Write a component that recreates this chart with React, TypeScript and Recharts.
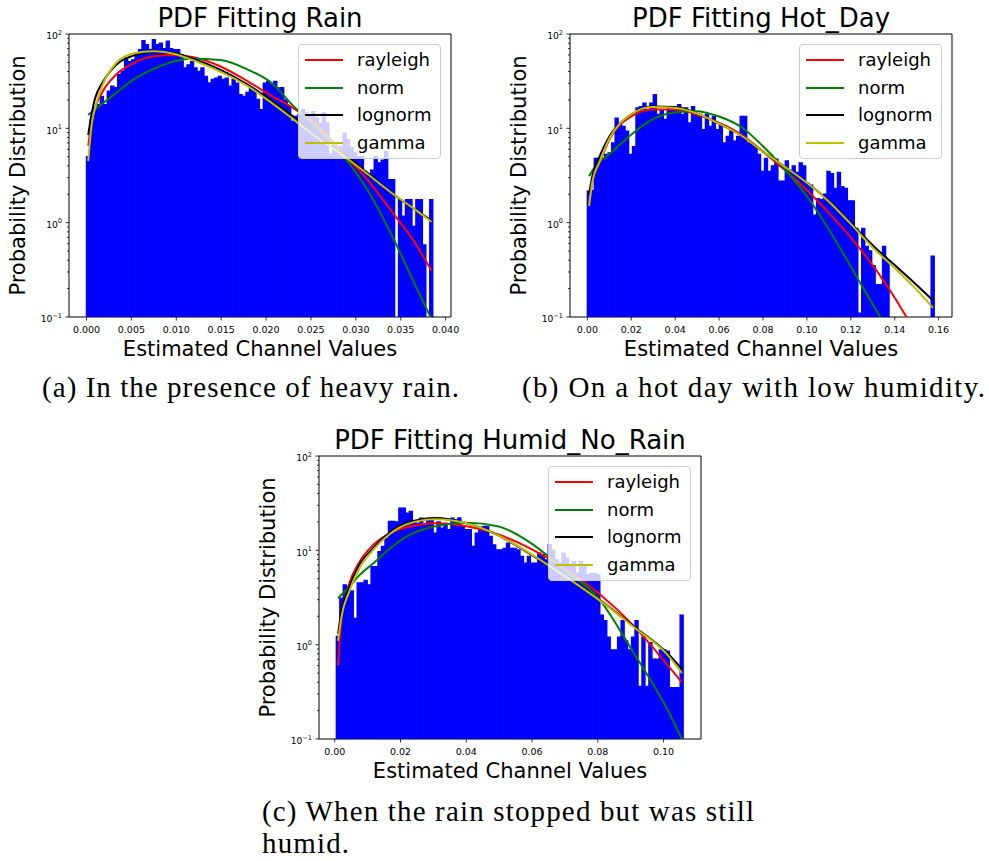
import React from 'react';
import { ComposedChart, Bar, Line, XAxis, YAxis, ReferenceArea, Legend } from 'recharts';

const SANS = 'DejaVu Sans';
const SERIF = 'Liberation Serif';

const FITS = ['rayleigh', 'norm', 'lognorm', 'gamma'];
const FIT_COLORS: Record<string, string> = {
  rayleigh: '#ff0000',
  norm: '#008000',
  lognorm: '#000000',
  gamma: '#bfbf00',
};

const Y_TICKS = [
  0.1, 0.2, 0.3, 0.4, 0.5, 0.6, 0.7, 0.8, 0.9,
  1, 2, 3, 4, 5, 6, 7, 8, 9,
  10, 20, 30, 40, 50, 60, 70, 80, 90,
  100,
];

// ---- (a) heavy rain ----
const RAIN_BIN_START = 0;
const RAIN_BIN_WIDTH = 0.0003862;
const RAIN_HIST = [
  5.0, 11.9, 16.4, 17.8, 21.8, 17.8, 24.7, 28, 27, 37,
  40, 55.7, 51, 53, 63, 68, 85, 77, 68, 87,
  77, 80, 70, 84, 70, 68, 68, 58, 43.6, 47,
  51, 43.6, 40, 43.6, 35.5, 30.2, 33, 34, 35.5, 33,
  34, 28, 33, 30, 22.7, 21.8, 24, 26.5, 24.7, 20.2,
  15.8, 30, 31.5, 29, 31.5, 26.8, 27, 20, 17, 11.9,
  13.4, 14, 15.8, 14.6, 14, 15, 12.9, 11.2, 14.6, 11.4,
  5.3, 7, 5.7, 6.4, 8.9, 7.6, 6.2, 5.5, 5, 5,
  3.4, 3.3, 3.6, 5, 4.3, 4.6, 5.7, 2.86, 2.86, null,
  1.75, 1.17, 1.75, 1.75, 0.91, 1.75, 1.75, 0.58, null, 1.75,
];
const RAIN_FIT_BINS = [0, 1, 2, 4, 8, 13, 19, 25, 30, 38, 46, 53, 59, 66, 74, 80, 88, 94, 99];
const RAIN_RAYLEIGH = [6.5, 12, 16.5, 24, 37, 49, 58, 60, 57, 45.5, 31.5, 22, 16.5, 10.8, 5.2, 3.0, 1.25, 0.63, 0.31];
const RAIN_NORM = [13.9, 14.8, 15.9, 18.2, 23.6, 32.8, 43, 51.5, 54.5, 53, 42, 30, 17.5, 10, 4.9, 2.4, 0.68, 0.23, 0.095];
const RAIN_LOGNORM = [8.5, 14.5, 21, 30, 47, 59, 65, 62.5, 55, 42, 29, 19.5, 13.4, 8, 5.2, 3.5, 2.0, 1.4, 1.05];
const RAIN_GAMMA = [4.5, 11, 16.5, 28, 49, 62, 65.5, 61.5, 53, 40, 28, 18.5, 12.6, 8, 5.0, 3.4, 2.0, 1.4, 1.02];
const RAIN_X_TICKS = [0, 0.005, 0.01, 0.015, 0.02, 0.025, 0.03, 0.035, 0.04];
const RAIN_X_DOMAIN = [-0.00195, 0.0406];

// ---- (b) hot day ----
const HOT_BIN_START = 0;
const HOT_BIN_WIDTH = 0.001582;
const HOT_HIST = [
  2.15, 2.2, 4.8, 4.8, 4.7, 5.3, 5.5, 7, 12.8, 10.9,
  10.5, 9.3, 5.3, 6.4, 16.4, 17, 18.5, 15.8, 18.5, 22.7,
  14, 15.8, 12.4, 16.4, 17, 15.8, 17.8, 14, 16.4, 11.4,
  17, 14, 14, 9.7, 14, 10.5, 13.4, 9.7, 10.9, 7,
  8.2, 9.3, 7.3, 8.2, 13.4, 13.4, 7, 6.7, 6.4, 5.3,
  3.5, 4.8, 3.5, 4, 4.7, 2.75, 2.75, 4.5, 3.6, 4,
  3.4, 4.3, 4, 2.6, 2.5, 1.2, 1.8, 1.75, 2.0, 3.5,
  3.3, 2.3, 3.4, 2.4, 2.3, 1.7, 1.7, 0.87, 0.11, 0.87,
  0.56, 0.5, 0.35, 0.22, 0.22, 0.56, 0.4, null, null, null,
  null, null, null, null, null, null, null, null, null, 0.44,
];
const HOT_FIT_BINS = [0, 1, 3, 6, 9, 12, 18, 25, 31, 37, 44, 50, 56, 63, 69, 75, 82, 88, 94, 99];
const HOT_RAYLEIGH = [1.6, 2.8, 4.3, 7.8, 11, 13.3, 15.8, 15.8, 14, 11.6, 8.5, 5.7, 3.7, 2.15, 1.27, 0.72, 0.34, 0.16, 0.07, 0.04];
const HOT_NORM = [3.1, 3.6, 4.4, 5.4, 6.8, 8.5, 12.3, 14.8, 15.2, 13.5, 10.2, 6.5, 3.8, 1.85, 0.85, 0.36, 0.13, 0.055, null, null];
const HOT_LOGNORM = [2.0, 3.2, 5.0, 8.4, 11.4, 13.9, 17, 16.8, 14.4, 11.4, 8.3, 5.7, 4.0, 2.6, 1.7, 1.02, 0.56, 0.355, 0.224, 0.15];
const HOT_GAMMA = [1.5, 2.8, 4.4, 8.0, 11.4, 14, 16.8, 16.4, 14.4, 11.4, 8.3, 5.7, 4.0, 2.6, 1.68, 1.0, 0.53, 0.33, 0.2, 0.125];
const HOT_X_TICKS = [0, 0.02, 0.04, 0.06, 0.08, 0.1, 0.12, 0.14, 0.16];
const HOT_X_DOMAIN = [-0.00791, 0.1661];

// ---- (c) humid, no rain ----
const HUMID_BIN_START = 0.0005;
const HUMID_BIN_WIDTH = 0.001056;
const HUMID_HIST = [
  1.22, 3.1, 4.3, 4.1, 3.7, 1.9, 4.5, 4.5, 4.8, 4.3,
  6.7, 6.7, 9.7, 11, 13.4, 20.2, 20.2, 20, 28, 28,
  24.7, 25.8, 20, 19.3, 21.9, 18.6, 21, 21, 15.2, 20,
  17.2, 19.3, 16.5, 21.9, 21, 22, 17.9, 16.5, 16.5, 11,
  15.2, 16.5, 17.9, 17.9, 14, 11.4, 10.1, 10.1, 10.5, 11.9,
  10.5, 10.5, 10.1, 8.6, 7.3, 8.6, 7.3, 7.3, 9.3, 9,
  7.9, 11.5, 10, 7.9, 7.3, 9.3, 8.2, 6.7, 7.6, 5.7,
  7.6, 6.7, 5.5, 5.7, 5.7, 5.5, 2.05, 1.8, 1.2, 0.88,
  0.88, 1.2, 1.8, 1.1, 0.88, 1.2, 1.8, 0.36, 1.2, 0.36,
  1.05, 0.7, 0.7, 0.88, 0.88, 0.85, 0.35, 0.35, 0.35, 2.05,
];
const HUMID_FIT_BINS = [0, 1, 3, 6, 10, 15, 20, 28, 37, 46, 55, 65, 75, 85, 95, 99];
const HUMID_RAYLEIGH = [0.6, 2.0, 4.2, 7.4, 11.3, 15.2, 17.7, 19.4, 18, 14.8, 10.6, 6.5, 3.5, 1.6, 0.6, 0.4];
const HUMID_NORM = [3.1, 3.4, 4.0, 5.4, 7.2, 10.5, 14.2, 18, 19.6, 18, 12.3, 6.3, 3.1, 0.83, 0.2, 0.1];
const HUMID_LOGNORM = [1.3, 2.3, 3.9, 6.9, 10.5, 15.5, 19.6, 22, 19.4, 14.5, 9.3, 5.4, 3.05, 1.58, 0.8, 0.55];
const HUMID_GAMMA = [1.1, 2.0, 3.5, 6.3, 10, 15, 19, 21.3, 19.4, 14.5, 9.4, 5.4, 3.0, 1.55, 0.77, 0.5];
const HUMID_X_TICKS = [0, 0.02, 0.04, 0.06, 0.08, 0.1];
const HUMID_X_DOMAIN = [-0.00478, 0.11138];

const CAPTIONS = [
  '(a) In the presence of heavy rain.',
  '(b) On a hot day with low humidity.',
  '(c) When the rain stopped but was still',
  'humid.',
];

// one row per histogram bin (at the bin centre); fitted pdf values sit on some of them
function buildRows(start: number, width: number, hist: (number | null)[], fitBins: number[], fits: (number | null)[][]) {
  const rows: any[] = hist.map((h, i) => ({ x: start + (i + 0.5) * width, hist: h }));
  fitBins.forEach((b, k) => {
    FITS.forEach((name, j) => {
      const v = fits[j][k];
      if (v != null) rows[b][name] = v;
    });
  });
  return rows;
}

const CHART_W = 470;
const CHART_H = 370;
const Y_AXIS_W = 69;
const X_AXIS_H = 53;
const MARGIN = { top: 34, right: 19, bottom: 0, left: 0 };
const PLOT_W = CHART_W - Y_AXIS_W - MARGIN.right;

const LogTick = ({ x, y, payload }: any) => {
  const p = Math.log10(payload.value);
  const exp = Math.round(p);
  const major = Math.abs(p - exp) < 1e-6;
  const len = major ? 3.5 : 2;
  return (
    <g>
      <line x1={x - len} y1={y} x2={x} y2={y} stroke="#000" strokeWidth={0.8} />
      {major && (
        <text x={x - 7} y={y + 5.4} textAnchor="end" fontFamily={SANS} fontSize={9.2} fill="#000">
          10<tspan dy={-4.7} fontSize={6.5}>{exp < 0 ? '\u2212' + -exp : String(exp)}</tspan>
        </text>
      )}
    </g>
  );
};

const makeXTick = (digits: number) => ({ x, y, payload }: any) => (
  <g>
    <line x1={x} y1={y} x2={x} y2={y + 3.5} stroke="#000" strokeWidth={0.8} />
    <text x={x} y={y + 15.7} textAnchor="middle" fontFamily={SANS} fontSize={9.5} fill="#000">
      {Number(payload.value).toFixed(digits)}
    </text>
  </g>
);

const LegendBox = ({ payload }: any) => {
  const items = [...(payload || [])]
    .filter((p: any) => FITS.includes(p.value))
    .sort((a: any, b: any) => FITS.indexOf(a.value) - FITS.indexOf(b.value));
  return (
    <div
      style={{
        background: 'rgba(255,255,255,0.8)',
        border: '1px solid #cccccc',
        borderRadius: 4,
        width: 143,
        height: 115,
        boxSizing: 'border-box',
        paddingTop: 1,
      }}
    >
      {items.map((p: any) => (
        <div key={p.value} style={{ height: 27.7, display: 'flex', alignItems: 'center' }}>
          <div style={{ marginLeft: 6, width: 38, height: 2, background: p.color }} />
          <span style={{ marginLeft: 14, fontSize: 18, fontFamily: SANS, color: '#000', lineHeight: 1 }}>
            {p.value}
          </span>
        </div>
      ))}
    </div>
  );
};

interface PanelProps {
  left: number;
  top: number;
  title: string;
  rows: any[];
  xDomain: number[];
  xTicks: number[];
  digits: number;
}

const Panel: React.FC<PanelProps> = ({ left, top, title, rows, xDomain, xTicks, digits }) => (
  <div style={{ position: 'absolute', left, top, width: CHART_W, height: CHART_H }}>
    <ComposedChart width={CHART_W} height={CHART_H} data={rows} margin={MARGIN} barCategoryGap={0} barGap={0}>
      <XAxis
        dataKey="x"
        type="number"
        domain={xDomain}
        allowDataOverflow
        ticks={xTicks}
        interval={0}
        height={X_AXIS_H}
        axisLine={false}
        tickLine={false}
        tickSize={0}
        tickMargin={0}
        tick={makeXTick(digits)}
        label={{
          content: ({ viewBox }: any) => (
            <text
              x={viewBox.x + viewBox.width / 2}
              y={viewBox.y + 39}
              textAnchor="middle"
              fontFamily={SANS}
              fontSize={21}
              fill="#000"
            >
              Estimated Channel Values
            </text>
          ),
        }}
      />
      <YAxis
        type="number"
        scale="log"
        domain={[0.1, 100]}
        allowDataOverflow
        ticks={Y_TICKS}
        interval={0}
        width={Y_AXIS_W}
        axisLine={false}
        tickLine={false}
        tickSize={0}
        tickMargin={0}
        tick={<LogTick />}
        label={{
          content: ({ viewBox }: any) => (
            <text
              transform={`translate(${viewBox.x + 25}, ${viewBox.y + viewBox.height / 2}) rotate(-90)`}
              textAnchor="middle"
              fontFamily={SANS}
              fontSize={21}
              fill="#000"
            >
              Probability Distribution
            </text>
          ),
        }}
      />
      <Bar
        dataKey="hist"
        fill="#0000ff"
        stroke="#0000ff"
        strokeWidth={1.4}
        legendType="none"
        isAnimationActive={false}
      />
      {FITS.map((name) => (
        <Line
          key={name}
          dataKey={name}
          name={name}
          type="monotone"
          stroke={FIT_COLORS[name]}
          strokeWidth={2}
          dot={false}
          activeDot={false}
          connectNulls
          isAnimationActive={false}
        />
      ))}
      <ReferenceArea
        x1={xDomain[0]}
        x2={xDomain[1]}
        y1={0.1}
        y2={100}
        fill="none"
        fillOpacity={0}
        stroke="#000"
        strokeWidth={1}
        ifOverflow="visible"
      />
      <Legend
        layout="horizontal"
        verticalAlign="middle"
        align="center"
        width={143}
        wrapperStyle={{ left: Y_AXIS_W + PLOT_W - 10 - 143, top: MARGIN.top + 10, width: 143, height: 115 }}
        content={(p: any) => <LegendBox payload={p.payload} />}
      />
    </ComposedChart>
    <svg
      width={CHART_W}
      height={MARGIN.top}
      style={{ position: 'absolute', left: 0, top: 0, pointerEvents: 'none', overflow: 'visible' }}
    >
      <text x={Y_AXIS_W + PLOT_W / 2} y={MARGIN.top - 7} textAnchor="middle" fontFamily={SANS} fontSize={26} fill="#000">
        {title}
      </text>
    </svg>
  </div>
);

export default function App() {
  const rainRows = buildRows(RAIN_BIN_START, RAIN_BIN_WIDTH, RAIN_HIST, RAIN_FIT_BINS, [
    RAIN_RAYLEIGH, RAIN_NORM, RAIN_LOGNORM, RAIN_GAMMA,
  ]);
  const hotRows = buildRows(HOT_BIN_START, HOT_BIN_WIDTH, HOT_HIST, HOT_FIT_BINS, [
    HOT_RAYLEIGH, HOT_NORM, HOT_LOGNORM, HOT_GAMMA,
  ]);
  const humidRows = buildRows(HUMID_BIN_START, HUMID_BIN_WIDTH, HUMID_HIST, HUMID_FIT_BINS, [
    HUMID_RAYLEIGH, HUMID_NORM, HUMID_LOGNORM, HUMID_GAMMA,
  ]);

  return (
    <div style={{ position: 'absolute', left: 0, top: 0, width: 989, height: 861, background: '#fff', overflow: 'hidden' }}>
      <Panel left={0} top={0} title="PDF Fitting Rain" rows={rainRows} xDomain={RAIN_X_DOMAIN} xTicks={RAIN_X_TICKS} digits={3} />
      <Panel left={501} top={0} title="PDF Fitting Hot_Day" rows={hotRows} xDomain={HOT_X_DOMAIN} xTicks={HOT_X_TICKS} digits={2} />
      <Panel left={250} top={422} title="PDF Fitting Humid_No_Rain" rows={humidRows} xDomain={HUMID_X_DOMAIN} xTicks={HUMID_X_TICKS} digits={2} />
      <svg width={989} height={861} style={{ position: 'absolute', left: 0, top: 0, pointerEvents: 'none' }}>
        <g fontFamily={SERIF} fontSize={29} fill="#000">
          <text x={42} y={397} textLength={417} lengthAdjust="spacing">{CAPTIONS[0]}</text>
          <text x={522} y={397} textLength={463} lengthAdjust="spacing">{CAPTIONS[1]}</text>
          <text x={262} y={821} textLength={492} lengthAdjust="spacing">{CAPTIONS[2]}</text>
          <text x={262} y={853} textLength={87} lengthAdjust="spacing">{CAPTIONS[3]}</text>
        </g>
      </svg>
    </div>
  );
}
